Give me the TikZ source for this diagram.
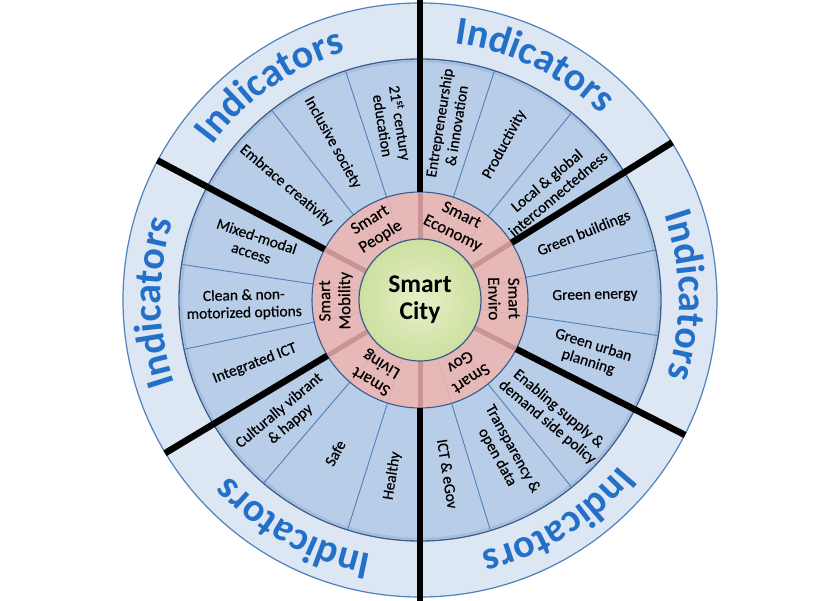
\documentclass[tikz,border=0pt]{standalone}
\usepackage{fontspec}
\setmainfont{Carlito}
\newfontfamily\heavyfont[FakeBold=0.45]{Carlito}
\usepackage{tikz}
\usetikzlibrary{decorations.text}

\definecolor{ringlight}{RGB}{221,231,243}
\definecolor{ringblue}{RGB}{184,205,231}
\definecolor{ringshade}{RGB}{166,190,222}
\definecolor{edgeblue}{RGB}{58,92,140}
\definecolor{spokeblue}{RGB}{79,129,189}
\definecolor{ringpink}{RGB}{230,185,184}
\definecolor{spokepink}{RGB}{202,148,148}
\definecolor{faintpink}{RGB}{216,168,168}
\definecolor{citygreen}{RGB}{205,224,160}
\definecolor{citygreenlt}{RGB}{230,240,200}
\definecolor{indblue}{RGB}{36,112,200}

\begin{document}
\begin{tikzpicture}[
  sect/.style={font=\heavyfont\fontsize{15.5}{17.5}\selectfont, align=center, inner sep=0pt},
  pillar/.style={font=\heavyfont\fontsize{17}{20}\selectfont, align=center, inner sep=0pt},
  indic/.style={decorate, decoration={text along path, text align=center, text color=indblue,
      text={|\fontsize{40}{40}\selectfont\bfseries|Indicators}}}
]
  \path[use as bounding box] (-420pt,-300pt) rectangle (420pt,300pt);
  \fill[white] (-420pt,-300pt) rectangle (420pt,300pt);

  \draw[fill=ringlight, draw=spokeblue, line width=1.2pt] (0,0) circle (297pt);
  \draw[fill=ringblue, draw=edgeblue, line width=1.3pt] (0,0) circle (241pt);
  \draw[ringshade, line width=2.5pt] (0,0) circle (238.8pt);
  \foreach \a in {108,128,171.5,191.8,229.5,252.5,-73,-51,-8.5,12,51,72}
    \draw[spokeblue, line width=0.9pt] (\a:108pt) -- (\a:240pt);

  \draw[fill=ringpink, draw=edgeblue, line width=1.1pt] (0,0) circle (108pt);
  \foreach \a in {108,128,171.5,191.8,229.5,252.5,-73,-51,-8.5,12,51,72}
    \draw[faintpink, line width=0.6pt] (\a:61pt) -- (\a:107pt);
  \foreach \a in {90,32,-27,-90,211,152}
    \draw[spokepink, line width=5pt] (\a:61pt) -- (\a:107.4pt);

  \shade[inner color=citygreenlt, outer color=citygreen] (0,0) circle (61pt);
  \draw[edgeblue, line width=1.2pt] (0,0) circle (61pt);

  \draw[black, line width=6.5pt] (90:108pt) -- (90:302pt);
  \draw[black, line width=6.5pt] (270:108pt) -- (270:302pt);
  \foreach \a in {32,-27,211,152}
    \draw[black, line width=6.5pt] (\a:108pt) -- (\a:297.5pt);

  \node[font=\fontsize{25.5}{27}\selectfont\bfseries, align=center] (city) at (0,0) {Smart\\City};

  \node[pillar, rotate=32] (people) at (122:84pt) {Smart\\People};
  \node[pillar, rotate=-26] (economy) at (64:84pt) {Smart\\Economy};
  \node[pillar, rotate=-89] (enviro) at (1:84pt) {Smart\\Enviro};
  \node[pillar, rotate=-147] (gov) at (-57:84pt) {Smart\\Gov};
  \node[pillar, rotate=149] (living) at (239:84pt) {Smart\\Living};
  \node[pillar, rotate=90.5] (mobility) at (180.5:84pt) {Smart\\Mobility};

  \node[sect, rotate=81] (entre) at (81:178pt) {Entrepreneurship\\\& innovation};
  \node[sect, rotate=61.5] (product) at (61.5:177pt) {Productivity};
  \node[sect, rotate=40] (local) at (40.5:174pt) {Local \& global\\interconnectedness};
  \node[sect, rotate=22] (buildings) at (22:177pt) {Green buildings};
  \node[sect, rotate=1.5] (energy) at (1.5:175pt) {Green energy};
  \node[sect, rotate=-17.5] (urban) at (-17.5:179pt) {Green urban\\planning};
  \node[sect, rotate=-40] (policy) at (-41:176pt) {Enabling supply \&\\demand side policy};
  \node[sect, rotate=-61] (opendata) at (-61:175pt) {Transparency \&\\open data};
  \node[sect, rotate=-81] (egov) at (-81:176pt) {ICT \& eGov};
  \node[sect, rotate=81] (healthy) at (261:178pt) {Healthy};
  \node[sect, rotate=61] (safe) at (241:175pt) {Safe};
  \node[sect, rotate=40] (vibrant) at (221:179pt) {Culturally vibrant\\\& happy};
  \node[sect, rotate=21] (ict) at (201:177pt) {Integrated ICT};
  \node[sect, rotate=1.5] (clean) at (181.5:176pt) {Clean \& non-\\motorized options};
  \node[sect, rotate=-18.5] (mixed) at (161.5:175pt) {Mixed-modal\\access};
  \node[sect, rotate=-40.5] (creative) at (139.5:176pt) {Embrace creativity};
  \node[sect, rotate=-61] (inclusive) at (119:180pt) {Inclusive society};
  \node[sect, rotate=-81] (educ) at (99:178pt) {21\textsuperscript{st} century\\education};

  \path[indic] (99:259pt) arc[start angle=99, end angle=29, radius=259pt];
  \path[indic] (36:259pt) arc[start angle=36, end angle=-34, radius=259pt];
  \path[indic] (-23:259pt) arc[start angle=-23, end angle=-93, radius=259pt];
  \path[indic] (276:259pt) arc[start angle=276, end angle=206, radius=259pt];
  \path[indic] (215.5:259pt) arc[start angle=215.5, end angle=145.5, radius=259pt];
  \path[indic] (160:259pt) arc[start angle=160, end angle=90, radius=259pt];
\end{tikzpicture}
\end{document}
